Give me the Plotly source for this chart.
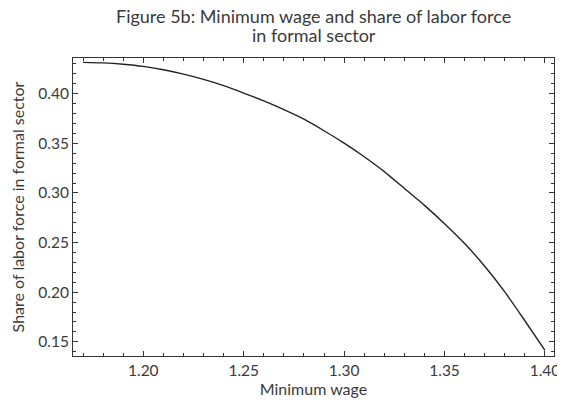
import plotly.graph_objects as go

min_wage = [1.17, 1.18, 1.19, 1.20, 1.21, 1.22, 1.23, 1.24, 1.25, 1.26, 1.27, 1.28,
            1.29, 1.30, 1.31, 1.32, 1.33, 1.34, 1.35, 1.36, 1.37, 1.38, 1.39, 1.40]
formal_share = [0.4316, 0.4311, 0.4297, 0.4275, 0.4241, 0.4197, 0.4144, 0.4081,
                0.4007, 0.3927, 0.3839, 0.3743, 0.3627, 0.3502, 0.3365, 0.3215,
                0.3045, 0.2875, 0.2690, 0.2490, 0.2262, 0.2003, 0.1712, 0.1414]

x_ticks = [1.20, 1.25, 1.30, 1.35, 1.40]
x_tick_labels = ["1.20", "1.25", "1.30", "1.35", "1.40"]
y_ticks = [0.15, 0.20, 0.25, 0.30, 0.35, 0.40]
y_tick_labels = ["0.15", "0.20", "0.25", "0.30", "0.35", "0.40"]

title_lines = ["Figure 5b: Minimum wage and share of labor force", "in formal sector"]
x_title = "Minimum wage"
y_title = "Share of labor force in formal sector"

FONT = "Lato"
TXT = "#3a3a3a"
AX = "#333333"

fig = go.Figure()
fig.add_trace(go.Scatter(x=min_wage, y=formal_share, mode="lines",
                         line=dict(color="#222222", width=1.4, shape="spline", smoothing=0.6),
                         showlegend=False, hoverinfo="skip"))

axis_common = dict(showline=True, linecolor=AX, linewidth=1, mirror="ticks",
                   ticks="inside", ticklen=5, tickcolor=AX, tickwidth=1,
                   showgrid=False, zeroline=False, automargin=False,
                   tickfont=dict(family=FONT, size=15.5, color=TXT),
                   minor=dict(ticks="inside", ticklen=3, tickcolor=AX, tickwidth=1, showgrid=False))

fig.update_xaxes(range=[1.1650, 1.4045], tickvals=x_ticks, ticktext=x_tick_labels,
                 minor_dtick=0.01, minor_tick0=1.20,
                 title=dict(text=x_title, font=dict(family=FONT, size=16, color=TXT), standoff=5),
                 **axis_common)
fig.update_yaxes(range=[0.1357, 0.4360], tickvals=y_ticks, ticktext=y_tick_labels,
                 minor_dtick=0.01, minor_tick0=0.15,
                 title=dict(text=y_title, font=dict(family=FONT, size=16, color=TXT), standoff=11),
                 **axis_common)

# page body adds an 8px offset; figure is sized to sit in the 565x404 window
fig.update_layout(
    width=557, height=396,
    margin=dict(l=65, r=11, t=50, b=48),
    paper_bgcolor="white", plot_bgcolor="white",
)
for txt, shift in zip(title_lines, [42.5, 23.5]):
    fig.add_annotation(text=txt, xref="paper", yref="paper", x=0.5, y=1,
                       xanchor="center", yanchor="middle", yshift=shift, showarrow=False,
                       font=dict(family=FONT, size=18, color=TXT))

fig.write_html("out.html")
